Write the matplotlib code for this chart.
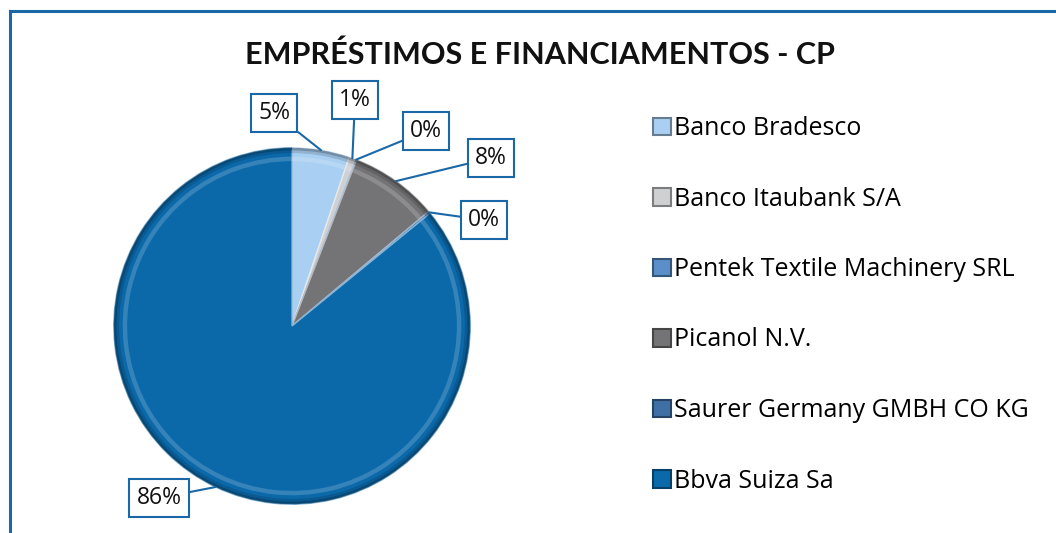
import numpy as np
import matplotlib.pyplot as plt
from matplotlib.patches import Patch
import matplotlib.colors as mcolors

# data
lenders = ["Banco Bradesco", "Banco Itaubank S/A", "Pentek Textile Machinery SRL",
           "Picanol N.V.", "Saurer Germany GMBH CO KG", "Bbva Suiza Sa"]
shares = [5.2, 0.6, 0.1, 8.0, 0.2, 85.9]
pct_labels = ["5%", "1%", "0%", "8%", "0%", "86%"]

colors = ["#a9cff2", "#cfd0d2", "#5a8fc9", "#747476", "#3e70a6", "#0b69aa"]
label_pos = [(274, 420), (355, 433), (426, 402), (491, 375), (484, 313), (159, 35)]

title_fonts = ["Lato", "DejaVu Sans"]
text_fonts = ["Open Sans", "DejaVu Sans"]
blue = "#1a68a8"

W, H = 1056, 533
fig = plt.figure(figsize=(W / 100, H / 100), dpi=100)

# frame (top and left edges)
fig.add_artist(plt.Line2D([10 / W, 1], [1 - 11 / H, 1 - 11 / H], transform=fig.transFigure,
                          color=blue, lw=2.2))
fig.add_artist(plt.Line2D([10 / W, 10 / W], [0, 1 - 11 / H], transform=fig.transFigure,
                          color=blue, lw=2.2))

fig.text(540 / W, 1 - 55 / H, "EMPRÉSTIMOS E FINANCIAMENTOS - CP", ha="center", va="center",
         fontsize=22, fontweight="bold", family=title_fonts, color="#111111")

# pie axes: center (292, 326) px, radius 180 px
cx, cy, r = 292, 326, 180
ax = fig.add_axes([(cx - r) / W, (H - cy - r) / H, 2 * r / W, 2 * r / H])

wedges, _ = ax.pie(shares, colors=colors, startangle=90, counterclock=False,
                   wedgeprops=dict(linewidth=0))

# soft dark rim and light bevel to mimic the shaded look
dark = [tuple(np.array(mcolors.to_rgb(c)) * 0.6) for c in colors]
light = [tuple(1 - (1 - np.array(mcolors.to_rgb(c))) * 0.5) for c in colors]
ax.pie(shares, colors=dark, startangle=90, counterclock=False, radius=1.0,
       wedgeprops=dict(width=0.015, linewidth=0, alpha=0.8))
ax.pie(shares, colors=dark, startangle=90, counterclock=False, radius=0.985,
       wedgeprops=dict(width=0.015, linewidth=0, alpha=0.35))
ax.pie(shares, colors=light, startangle=90, counterclock=False, radius=0.95,
       wedgeprops=dict(width=0.025, linewidth=0, alpha=0.35))
for w, c in zip(wedges, light):
    w.set_edgecolor(c)
    w.set_linewidth(1.0)

ax.set_xlim(-1.01, 1.01)
ax.set_ylim(-1.01, 1.01)
ax.set_aspect("equal")
ax.axis("off")

# callout labels
for w, txt, pos in zip(wedges, pct_labels, label_pos):
    ang = np.deg2rad((w.theta1 + w.theta2) / 2)
    xy = (np.cos(ang), np.sin(ang))
    ax.annotate(txt, xy=xy, xycoords="data", xytext=pos, textcoords="figure pixels",
                ha="center", va="center", fontsize=16.5, family=text_fonts, color="#111111",
                bbox=dict(boxstyle="square,pad=0.32", fc="white", ec=blue, lw=1.5),
                arrowprops=dict(arrowstyle="-", color=blue, lw=1.5, shrinkA=0, shrinkB=0),
                annotation_clip=False)

handles = [Patch(facecolor=c, edgecolor=d, linewidth=1.5) for c, d in zip(colors, dark)]
fig.legend(handles, lenders, loc="upper left", bbox_to_anchor=(653 / W, 1 - 116 / H),
           frameon=False, prop=dict(family=text_fonts, size=18), handlelength=0.7,
           handleheight=0.7, handletextpad=0.12, labelspacing=1.82, borderaxespad=0,
           borderpad=0)

fig.savefig("out.png", dpi=100, facecolor="white")
